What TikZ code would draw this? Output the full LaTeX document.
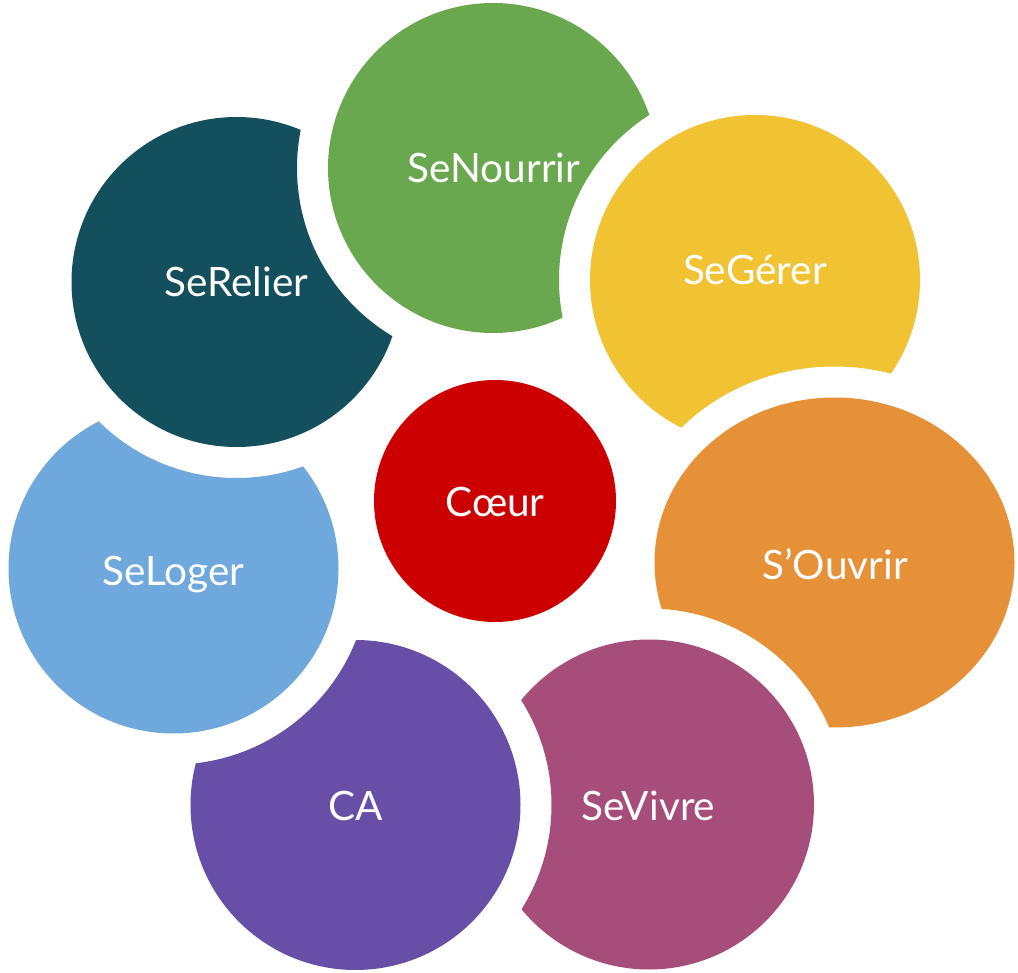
\documentclass[tikz,border=0pt]{standalone}
\usepackage{fontspec}
\usepackage{xcolor}
\newfontfamily\lbfont{Lato}

\definecolor{relier}{HTML}{134F5C}
\definecolor{nourrir}{HTML}{6AA84F}
\definecolor{gerer}{HTML}{F1C232}
\definecolor{ouvrir}{HTML}{E69138}
\definecolor{vivre}{HTML}{A64D79}
\definecolor{ca}{HTML}{674EA7}
\definecolor{loger}{HTML}{6FA8DC}
\definecolor{coeur}{HTML}{CC0000}

\begin{document}
\begin{tikzpicture}[x=1pt,y=-1pt,
  lbl/.style={text=white, anchor=base, inner sep=0pt, font=\lbfont\fontsize{40.5}{48}\selectfont}]
\useasboundingbox (0,0) rectangle (1018,973);

\coordinate (relier) at (236.5,282);
\coordinate (nourrir) at (493,168);
\coordinate (gerer) at (755,280);
\coordinate (ouvrir) at (834.5,562.5);
\coordinate (vivre) at (649,804.5);
\coordinate (ca) at (355.5,805);
\coordinate (loger) at (173.5,568.5);
\coordinate (coeur) at (495,501);

% each disc is cut by the next one, with a white gap
\begin{scope}[even odd rule]
\clip (0,0) rectangle (1018,973) (nourrir) circle (196pt);
\fill[relier] (relier) circle (165pt);
\end{scope}
\begin{scope}[even odd rule]
\clip (0,0) rectangle (1018,973) (gerer) circle (196pt);
\fill[nourrir] (nourrir) circle (165pt);
\end{scope}
\begin{scope}[even odd rule]
\clip (0,0) rectangle (1018,973) (ouvrir) ellipse (211pt and 196pt);
\fill[gerer] (gerer) circle (165pt);
\end{scope}
\begin{scope}[even odd rule]
\clip (0,0) rectangle (1018,973) (vivre) circle (196pt);
\fill[ouvrir] (ouvrir) ellipse (180pt and 165pt);
\end{scope}
\begin{scope}[even odd rule]
\clip (0,0) rectangle (1018,973) (ca) circle (196pt);
\fill[vivre] (vivre) circle (165pt);
\end{scope}
\begin{scope}[even odd rule]
\clip (0,0) rectangle (1018,973) (loger) circle (196pt);
\fill[ca] (ca) circle (165pt);
\end{scope}
\begin{scope}[even odd rule]
\clip (0,0) rectangle (1018,973) (relier) circle (196pt);
\fill[loger] (loger) circle (165pt);
\end{scope}
\fill[coeur] (coeur) circle (121pt);

% labels
\node[lbl] (trelier) at (236.5,297) {SeRelier};
\node[lbl] (tnourrir) at (494,183) {SeNourrir};
\node[lbl] (tgerer) at (755,285) {SeGérer};
\node[lbl] (touvrir) at (835,579) {S’Ouvrir};
\node[lbl] (tvivre) at (648.5,820) {SeVivre};
\node[lbl] (tca) at (356,820) {CA};
\node[lbl] (tloger) at (173.5,585) {SeLoger};
\node[lbl] (tcoeur) at (495,517) {Cœur};
\end{tikzpicture}
\end{document}
